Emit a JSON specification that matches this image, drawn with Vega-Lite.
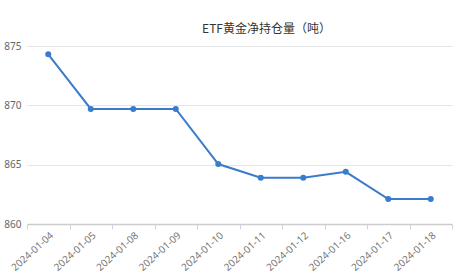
{
  "$schema": "https://vega.github.io/schema/vega-lite/v6.json",
  "width": 425,
  "height": 178,
  "autosize": {"type": "none"},
  "padding": {"left": 27, "top": 46, "right": 2, "bottom": 48},
  "background": "white",
  "title": {
    "text": "ETF黄金净持仓量（吨）",
    "font": "Noto Sans CJK SC",
    "fontSize": 12,
    "fontWeight": "normal",
    "color": "#333333",
    "anchor": "middle",
    "dx": 27,
    "offset": 5
  },
  "data": {
    "values": [
      {"date": "2024-01-04", "value": 874.3},
      {"date": "2024-01-05", "value": 869.7},
      {"date": "2024-01-08", "value": 869.7},
      {"date": "2024-01-09", "value": 869.7},
      {"date": "2024-01-10", "value": 865.05},
      {"date": "2024-01-11", "value": 863.9},
      {"date": "2024-01-12", "value": 863.9},
      {"date": "2024-01-16", "value": 864.4},
      {"date": "2024-01-17", "value": 862.1},
      {"date": "2024-01-18", "value": 862.1}
    ]
  },
  "config": {
    "view": {"stroke": null},
    "axis": {"labelFont": "Noto Sans", "labelColor": "#666666", "labelFontSize": 10}
  },
  "encoding": {
    "x": {
      "field": "date",
      "type": "ordinal",
      "sort": null,
      "scale": {"paddingInner": 0, "paddingOuter": 0},
      "axis": {
        "title": null,
        "labelAngle": -42,
        "labelAlign": "right",
        "labelBaseline": "top",
        "labelPadding": 1,
        "labelColor": "#777777",
        "tickBand": "extent",
        "tickColor": "#ccd6eb",
        "tickSize": 5,
        "domainColor": "#cccccc",
        "domainWidth": 1.5,
        "grid": false
      }
    },
    "y": {
      "field": "value",
      "type": "quantitative",
      "scale": {"domain": [860, 875], "nice": false, "zero": false},
      "axis": {
        "title": null,
        "values": [860, 865, 870, 875],
        "ticks": false,
        "domain": false,
        "gridColor": "#e6e6e6",
        "labelPadding": 6
      }
    }
  },
  "layer": [
    {"mark": {"type": "line", "color": "#3a7bcc", "strokeWidth": 2}},
    {"mark": {"type": "point", "filled": true, "color": "#3a7bcc", "size": 36, "opacity": 1}}
  ]
}
